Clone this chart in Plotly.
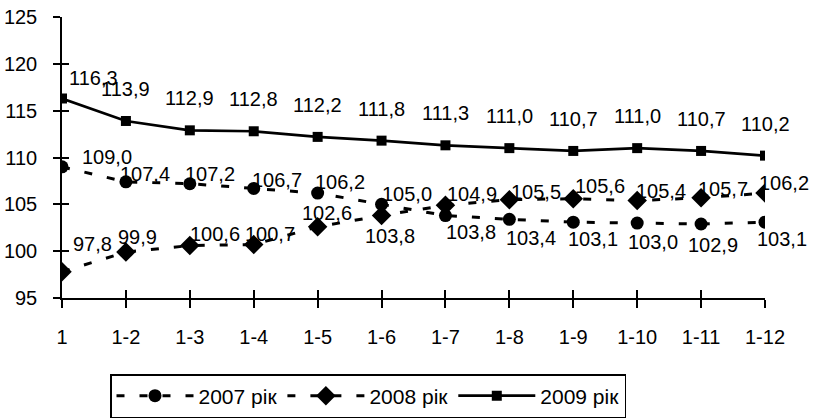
import plotly.graph_objects as go

categories = ["1", "1-2", "1-3", "1-4", "1-5", "1-6", "1-7", "1-8", "1-9", "1-10", "1-11", "1-12"]
y2007 = [109.0, 107.4, 107.2, 106.7, 106.2, 105.0, 103.8, 103.4, 103.1, 103.0, 102.9, 103.1]
y2008 = [97.8, 99.9, 100.6, 100.7, 102.6, 103.8, 104.9, 105.5, 105.6, 105.4, 105.7, 106.2]
y2009 = [116.3, 113.9, 112.9, 112.8, 112.2, 111.8, 111.3, 111.0, 110.7, 111.0, 110.7, 110.2]
names = ["2007 рік", "2008 рік", "2009 рік"]
y_ticks = [95, 100, 105, 110, 115, 120, 125]

# label offsets (style): (dx, dy) in px
off2007 = [(45, 10), (19, 8), (20, 10), (23, 8), (22, 11), (25, 10), (26, -16), (22, -19), (20, -17), (16, -19), (12, -21), (17, -17)]
off2008 = [(30, 28), (12, 15), (25, 12), (16, 11), (9, 14), (8, -20), (27, 11), (27, 8), (27, 13), (24, 10), (22, 9), (19, 10)]
off2009 = [(31, 20)] + [(0, 32)] * 11

FONT = "Liberation Sans, Arial, sans-serif"
fig = go.Figure()

dash = "8px,15px"
fig.add_trace(go.Scatter(x=categories, y=y2007, name=names[0], mode="lines+markers",
                         line=dict(color="black", width=3, dash=dash),
                         marker=dict(symbol="circle", size=13, color="black")))
fig.add_trace(go.Scatter(x=categories, y=y2008, name=names[1], mode="lines+markers",
                         line=dict(color="black", width=3, dash=dash),
                         marker=dict(symbol="diamond", size=15, color="black")))
fig.add_trace(go.Scatter(x=categories, y=y2009, name=names[2], mode="lines+markers",
                         line=dict(color="black", width=2.7),
                         marker=dict(symbol="square", size=10, color="black")))
# invisible trace for the overlay axes (crossing ticks)
fig.add_trace(go.Scatter(x=categories, y=y2009, xaxis="x2", yaxis="y2", mode="lines",
                         line=dict(width=0), showlegend=False, hoverinfo="skip", opacity=0))

def fmt(v):
    return f"{v:.1f}".replace(".", ",")

for vals, offs in ((y2007, off2007), (y2008, off2008), (y2009, off2009)):
    for i, (v, (dx, dy)) in enumerate(zip(vals, offs)):
        # category axis: index i is the position of categories[i]
        fig.add_annotation(x=i, y=v, text=fmt(v), showarrow=False, xshift=dx, yshift=dy,
                           xanchor="center", yanchor="middle",
                           font=dict(family=FONT, size=20, color="black"))

axis_common = dict(showgrid=False, zeroline=False, automargin=False)
fig.update_layout(
    width=814, height=420,
    margin=dict(l=62, r=49, t=17, b=122, pad=0, autoexpand=False),
    paper_bgcolor="white", plot_bgcolor="white",
    font=dict(family=FONT, size=20, color="black"),
    xaxis=dict(type="category", categoryorder="array", categoryarray=categories,
               range=[0, len(categories) - 1], showline=True, linecolor="black", linewidth=1.5,
               ticks="outside", ticklen=8, tickwidth=1.5, tickcolor="black",
               tickfont=dict(size=20), ticklabelstandoff=12, **axis_common),
    yaxis=dict(range=[95, 125], tickvals=y_ticks, showline=True, linecolor="black", linewidth=1.5,
               ticks="outside", ticklen=7, tickwidth=1.5, tickcolor="black",
               tickfont=dict(size=20), ticklabelstandoff=12, **axis_common),
    xaxis2=dict(type="category", categoryorder="array", categoryarray=categories,
                range=[0, len(categories) - 1], overlaying="x", showline=False,
                ticks="inside", ticklen=8, tickwidth=1.5, tickcolor="black",
                showticklabels=False, side="bottom", anchor="y2", **axis_common),
    yaxis2=dict(range=[95, 125], tickvals=y_ticks, overlaying="y", showline=False,
                ticks="inside", ticklen=7, tickwidth=1.5, tickcolor="black",
                showticklabels=False, side="left", anchor="x2", **axis_common),
    legend=dict(orientation="h", xref="container", yref="container",
                x=110 / 814, xanchor="left", y=1 - 374 / 420, yanchor="top",
                bordercolor="black", borderwidth=1.5, bgcolor="white",
                font=dict(family=FONT, size=21, color="black"), itemwidth=77,
                tracegroupgap=0),
    showlegend=True,
)

fig.write_html("out.html", config={"displayModeBar": False},
               post_script="document.body.style.margin='0';document.body.style.overflow='hidden';")
